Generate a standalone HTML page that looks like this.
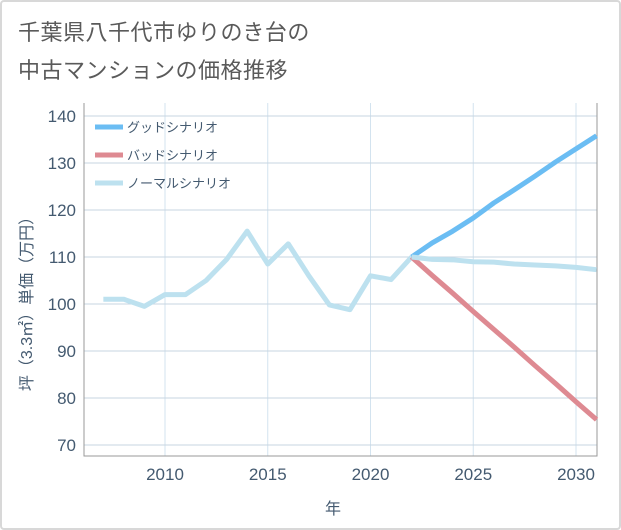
<!DOCTYPE html>
<html><head><meta charset="utf-8">
<style>
html,body{margin:0;padding:0;background:#fff;}
body{width:621px;height:530px;position:relative;overflow:hidden;font-family:"Liberation Sans","Noto Sans CJK JP",sans-serif;}
.card{position:absolute;left:0;top:0;width:617px;height:526px;border:2px solid #d8d8d8;border-radius:4px;background:#fff;}
.title{position:absolute;left:18px;top:14px;font-size:22px;line-height:38px;color:#5a5a5a;letter-spacing:0.5px;}
</style></head><body>
<div class="card"></div>
<div class="title">千葉県八千代市ゆりのき台の<br>中古マンションの価格推移</div>
<svg id="chart" width="621" height="530" style="position:absolute;left:0;top:0"></svg>
<script>
const years=[2007,2008,2009,2010,2011,2012,2013,2014,2015,2016,2017,2018,2019,2020,2021,2022];
const histValues=[101,101,99.5,102,102,105,109.5,115.5,108.5,112.8,106,99.8,98.8,106,105.2,110];
const futureYears=[2022,2023,2024,2025,2026,2027,2028,2029,2030,2031];
const goodValues=[110,113,115.5,118.3,121.5,124.3,127.2,130.2,133,135.8];
const badValues=[110,106.1,102.3,98.4,94.6,90.8,86.9,83.1,79.2,75.4];
const normalValues=[110,109.5,109.4,109,108.9,108.5,108.3,108.1,107.8,107.3];
const xTicks=[2010,2015,2020,2025,2030];
const yTicks=[70,80,90,100,110,120,130,140];
const legendLabels=["グッドシナリオ","バッドシナリオ","ノーマルシナリオ"];
const colors=["#6bbdf3","#de8a92","#bde1ef"];

const L=84,R=597,T=103,B=456;
const x=v=>165+(v-2010)*20.55;
const y=v=>445-(v-70)*4.7;
const svg=document.getElementById('chart');
const NS='http://www.w3.org/2000/svg';
function mk(t,a){const e=document.createElementNS(NS,t);for(const k in a)e.setAttribute(k,a[k]);svg.appendChild(e);return e;}

xTicks.forEach(v=>{const l=mk('line',{x1:x(v),x2:x(v),y1:T,y2:B,stroke:'#d3e3ef','stroke-width':1});


const t=mk('text',{x:x(v),y:480,'text-anchor':'middle','font-size':17,fill:'#445a70'});t.textContent=v;

});
yTicks.forEach(v=>{const l=mk('line',{x1:L,x2:R,y1:y(v),y2:y(v),stroke:'#c7d5e2','stroke-width':1});


const t=mk('text',{x:76,y:y(v)+6,'text-anchor':'end','font-size':17,fill:'#445a70'});t.textContent=v;

});
const ax=mk('path',{d:`M${L},${T}V${B}H${R}V${T}`,fill:'none',stroke:'#999','stroke-width':1});



function line(xs,vs,c,name){const p=mk('polyline',{points:xs.map((v,i)=>x(v)+','+y(vs[i])).join(' '),fill:'none',stroke:c,'stroke-width':5,'stroke-linejoin':'round'});

}
line(years,histValues,colors[2],'history-line');
line(futureYears,goodValues,colors[0],'good-scenario-line');
line(futureYears,badValues,colors[1],'bad-scenario-line');
line(futureYears,normalValues,colors[2],'normal-scenario-line');

legendLabels.forEach((s,i)=>{const yy=127+i*28;
const l=mk('line',{x1:95,x2:123,y1:yy,y2:yy,stroke:colors[i],'stroke-width':5});


const t=mk('text',{x:127,y:yy+5,'font-size':13,fill:'#445a70'});t.textContent=s;

});

const xt=mk('text',{x:333,y:514,'text-anchor':'middle','font-size':16,fill:'#445a70'});xt.textContent='年';


const yt=mk('text',{x:0,y:0,'text-anchor':'middle','font-size':16,fill:'#445a70',transform:'translate(32,300) rotate(-90)'});yt.textContent='坪（3.3㎡）単価（万円）';


</script>
</body></html>
